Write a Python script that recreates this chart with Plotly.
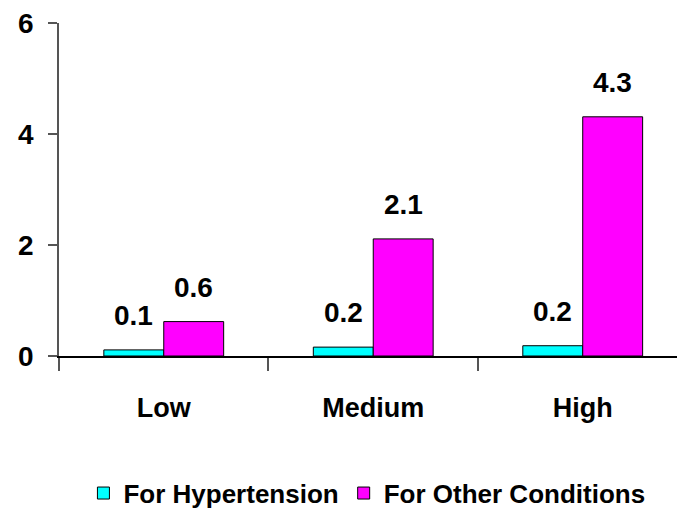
import plotly.graph_objects as go

categories = ["Low", "Medium", "High"]
hypertension = [0.11, 0.16, 0.185]
other = [0.62, 2.11, 4.31]
hyp_labels = ["0.1", "0.2", "0.2"]
oth_labels = ["0.6", "2.1", "4.3"]
y_ticks = [0, 2, 4, 6]

FONT = "Liberation Sans, Arial, sans-serif"
BW = 0.286

fig = go.Figure()
fig.add_trace(go.Bar(x=categories, y=hypertension, name="For Hypertension",
                     marker=dict(color="#00FFFF", line=dict(color="black", width=1))))
fig.add_trace(go.Bar(x=categories, y=other, name="For Other Conditions",
                     marker=dict(color="#FF00FF", line=dict(color="black", width=1))))

for i, (v, t) in enumerate(zip(hypertension, hyp_labels)):
    fig.add_annotation(x=i - BW / 2, y=v, text=f"<b>{t}</b>", showarrow=False,
                       xref="x", yref="y", yanchor="bottom", yshift=17,
                       font=dict(family=FONT, size=28, color="black"))
for i, (v, t) in enumerate(zip(other, oth_labels)):
    fig.add_annotation(x=i + BW / 2, y=v, text=f"<b>{t}</b>", showarrow=False,
                       xref="x", yref="y", yanchor="bottom", yshift=17,
                       font=dict(family=FONT, size=28, color="black"))

fig.update_layout(
    width=677, height=518,
    margin=dict(l=59, r=0, t=23, b=162, autoexpand=False),
    paper_bgcolor="white", plot_bgcolor="white",
    barmode="group", bargap=1 - 2 * BW, bargroupgap=0,
    font=dict(family=FONT, size=26, color="black"),
    showlegend=True,
    legend=dict(orientation="h", x=0.542, xanchor="center", xref="container",
                y=0.048, yanchor="middle", yref="container",
                font=dict(family=FONT, size=26, color="black", weight="bold"),
                itemwidth=30, tracegroupgap=0, bgcolor="rgba(0,0,0,0)"),
    xaxis=dict(type="category", range=[-0.5, 2.45], showgrid=False,
               showline=True, linecolor="black", linewidth=1.5,
               ticks="outside", tickson="boundaries", ticklen=13, tickcolor="#555555",
               tickwidth=1.5, ticklabelstandoff=27,
               tickfont=dict(family=FONT, size=27, weight="bold")),
    yaxis=dict(range=[0, 6], tickvals=y_ticks, showgrid=False, zeroline=False,
               showline=True, linecolor="#555555", linewidth=1.5,
               ticks="outside", ticklen=9, tickcolor="#555555", tickwidth=1.5,
               ticklabelstandoff=9,
               tickfont=dict(family=FONT, size=28, weight="bold")),
)

fig.write_html("out.html")
